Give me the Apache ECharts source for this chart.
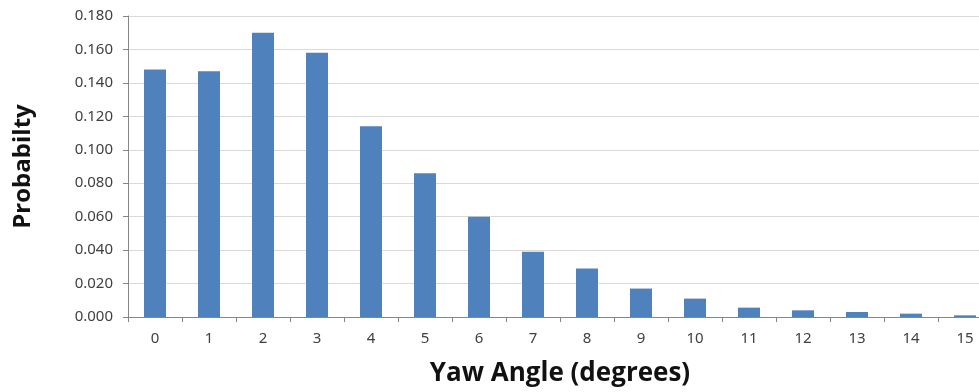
<!DOCTYPE html>
<html>
<head>
<meta charset="utf-8">
<script src="https://cdn.jsdelivr.net/npm/echarts@6/dist/echarts.min.js"></script>
<style>
  html, body { margin: 0; padding: 0; background: #fff; }
  #main { width: 979px; height: 392px; }
</style>
</head>
<body>
<div id="main"></div>
<script>
// categories (yaw angle, degrees) and probabilities
var angles = ['0', '1', '2', '3', '4', '5', '6', '7', '8', '9', '10', '11', '12', '13', '14', '15'];
var probs = [0.148, 0.147, 0.170, 0.158, 0.114, 0.086, 0.060, 0.039, 0.029, 0.017, 0.011, 0.0056, 0.004, 0.003, 0.002, 0.001];

var chart = echarts.init(document.getElementById('main'));

chart.setOption({
  animation: false,
  grid: {
    left: 128,
    right: -13,
    top: 16,
    bottom: 75,
    outerBoundsMode: 'none'
  },
  xAxis: {
    type: 'category',
    data: angles,
    name: 'Yaw Angle (degrees)',
    nameLocation: 'middle',
    nameGap: 44,
    nameTextStyle: { fontFamily: 'Open Sans', fontWeight: 'bold', fontSize: 26, color: '#111' },
    axisLine: { lineStyle: { color: '#868686' } },
    axisTick: { show: true, length: 5, lineStyle: { color: '#868686' } },
    axisLabel: { fontFamily: 'Noto Sans', fontSize: 15, color: '#404040', margin: 14 }
  },
  yAxis: {
    type: 'value',
    min: 0,
    max: 0.18,
    interval: 0.02,
    name: 'Probabilty',
    nameLocation: 'middle',
    nameGap: 93,
    nameTextStyle: { fontFamily: 'Open Sans', fontWeight: 'bold', fontSize: 24, color: '#111' },
    axisLine: { show: true, lineStyle: { color: '#868686' } },
    axisTick: { show: true, length: 5, lineStyle: { color: '#868686' } },
    axisLabel: {
      fontFamily: 'Noto Sans', fontSize: 15, color: '#404040', margin: 15,
      formatter: function (v) { return v.toFixed(3); }
    },
    splitLine: { lineStyle: { color: '#d9d9d9' } }
  },
  series: [{
    type: 'bar',
    data: probs,
    barWidth: 22,
    itemStyle: { color: '#4f81bd' }
  }]
});
</script>
</body>
</html>
